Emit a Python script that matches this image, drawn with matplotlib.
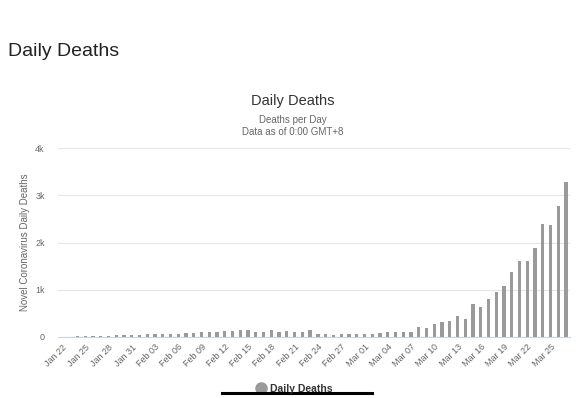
import numpy as np
import matplotlib
matplotlib.use("Agg")
import matplotlib.pyplot as plt
from matplotlib.lines import Line2D
import datetime as dt

# daily deaths, Jan 22 .. Mar 27
jan_deaths = [0, 8, 16, 15, 24, 26, 26, 38, 43, 46]
feb_deaths = [45, 57, 64, 66, 73, 73, 86, 89, 97, 108, 97, 120, 121, 143, 142,
              106, 98, 139, 115, 125, 111, 98, 150, 71, 64, 37, 58, 67, 72]
mar_deaths = [66, 70, 86, 99, 97, 106, 104, 220, 190, 280, 320, 340, 450, 390,
              690, 630, 800, 950, 1080, 1370, 1610, 1610, 1880, 2390, 2380,
              2780, 3270]
deaths = jan_deaths + feb_deaths + mar_deaths

start = dt.date(2020, 1, 22)
days = [start + dt.timedelta(days=i) for i in range(len(deaths))]
day_labels = [d.strftime("%b %d") for d in days]

y_ticks = [0, 1000, 2000, 3000, 4000]
y_tick_labels = ["0", "1k", "2k", "3k", "4k"]

plt.rcParams['font.family'] = ['Liberation Sans', 'DejaVu Sans']

W, H = 584, 398
fig = plt.figure(figsize=(W / 100, H / 100), dpi=100)
ax = fig.add_axes([58 / W, (H - 337) / H, 512 / W, 189 / H])

x = np.arange(len(deaths))
ax.bar(x, deaths, width=0.42, color='#9a9a9a', zorder=3)

ax.set_xlim(-0.5, len(deaths) - 0.5)
ax.set_ylim(0, 4000)
ax.set_yticks(y_ticks)
ax.set_yticklabels(y_tick_labels, color='#666666', fontsize=6.5)
ax.set_xticks(x[::3])
ax.set_xticklabels(day_labels[::3], rotation=45, ha='right',
                   rotation_mode='anchor', color='#666666', fontsize=6.5)
ax.tick_params(axis='both', length=0, pad=4)
ax.tick_params(axis='y', pad=9.5)
ax.grid(axis='y', color='#e6e6e6', lw=0.8, zorder=0)
for s in ['top', 'right', 'left']:
    ax.spines[s].set_visible(False)
ax.spines['bottom'].set_color('#ccd6eb')
ax.spines['bottom'].set_linewidth(0.8)
ax.set_ylabel("Novel Coronavirus Daily Deaths", color='#666666', fontsize=7,
              labelpad=4)

# titles
fig.text(8 / W, 1 - 52 / H, "Daily Deaths", fontsize=14, color='#222222',
         va='center', ha='left')
fig.text(293 / W, 1 - 101 / H, "Daily Deaths", fontsize=10.5, color='#333333',
         va='center', ha='center')
fig.text(293 / W, 1 - 120 / H, "Deaths per Day", fontsize=7, color='#666666',
         va='center', ha='center')
fig.text(293 / W, 1 - 132 / H, "Data as of 0:00 GMT+8", fontsize=7,
         color='#666666', va='center', ha='center')

# legend
fig.add_artist(Line2D([261 / W], [1 - 388 / H], marker='o', markersize=8,
                      color='#9a9a9a', transform=fig.transFigure))
fig.text(270 / W, 1 - 389 / H, "Daily Deaths", fontsize=7.5, fontweight='bold',
         color='#333333', va='center', ha='left')
fig.add_artist(Line2D([222 / W, 372 / W], [1 - 393 / H, 1 - 393 / H],
                      color='black', lw=2.2, transform=fig.transFigure))

fig.savefig('out.png', dpi=100)
